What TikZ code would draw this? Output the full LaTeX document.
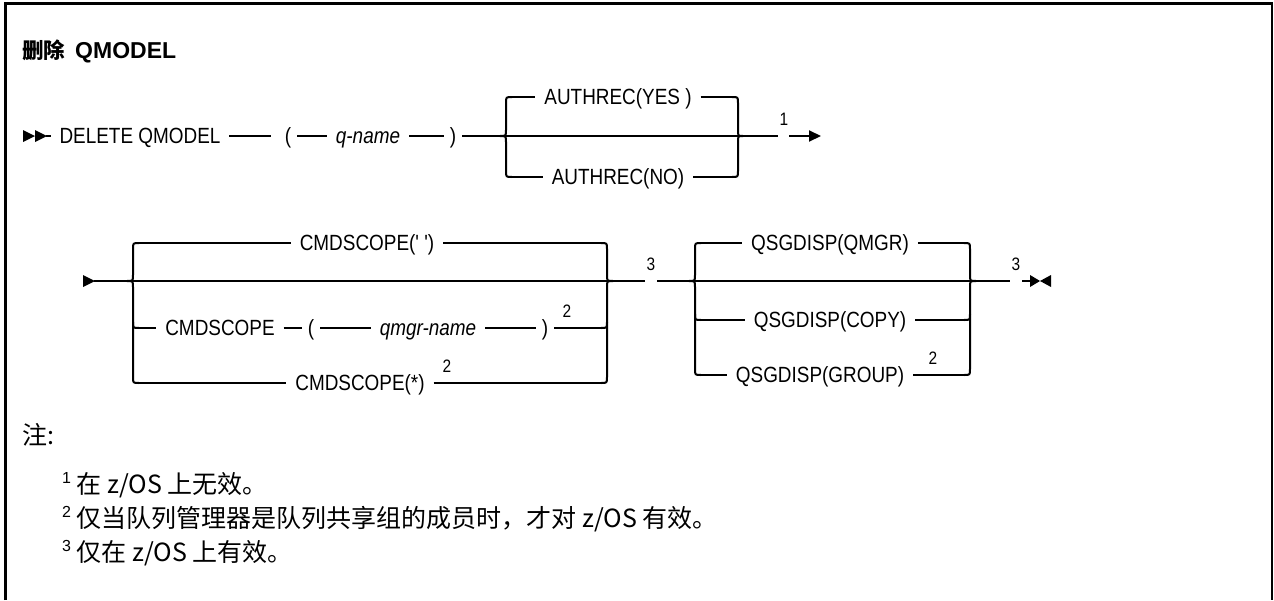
\documentclass[tikz,border=0pt]{standalone}
\usepackage{fontspec}
\usetikzlibrary{arrows.meta}
\newfontfamily\lbl{Liberation Sans}[FakeStretch=0.86]
\newfontfamily\lblb{Liberation Sans}
\newfontfamily\cjk{Noto Sans CJK SC}
\newcommand\lblfont{\lbl\fontsize{22}{24}\selectfont}
\newcommand\supfont{\lbl\fontsize{18}{19}\selectfont}
\newcommand\notefont{\cjk\fontsize{25}{27}\selectfont}
\newcommand\nsup[1]{{\lblb\fontsize{16}{16}\selectfont\raisebox{10pt}{#1}}}
\tikzset{
  rail/.style={line width=2pt},
  frame/.style={line width=2.8pt},
  tok/.style={font=\lblfont, inner sep=0pt, outer xsep=9pt, outer ysep=0pt,
              text height=15.7pt, text depth=0pt, anchor=center},
  par/.style={tok, outer xsep=6pt},
  supn/.style={font=\supfont, inner sep=0pt, anchor=center},
  notetext/.style={font=\notefont, inner sep=0pt, anchor=west},
  endarrow/.style={-{Triangle[length=12pt,width=11pt]}}
}
\begin{document}
\begin{tikzpicture}[x=1pt,y=-1pt]
\useasboundingbox (0,0) rectangle (1274,600);
% frame (open at the bottom)
\draw[frame] (5.5,600) -- (5.5,3.5) -- (1272,3.5) -- (1272,600);

% title
\node[anchor=west, inner sep=0pt] (title) at (22,51)
  {{\cjk\bfseries\fontsize{21.5}{24}\selectfont 删除}\hspace{10pt}{\lblb\bfseries\fontsize{23}{25}\selectfont QMODEL}};

% ---------------- row 1 ----------------
\fill (23,130) -- (35,136) -- (23,142) -- cycle;
\fill (35,130) -- (47,136) -- (35,142) -- cycle;
\coordinate (s1) at (46,136);
\node[tok] (del) at (140,136) {DELETE QMODEL};
\node[par] (lp1) at (288,136) {(};
\node[tok] (qn)  at (368,136) {\itshape q-name};
\node[par] (rp1) at (453,136) {)};
\coordinate (bl1) at (500,136);
\coordinate (br1) at (743,136);
\coordinate (e1) at (778,136);
\node[supn] (n1) at (784,119) {1};
\coordinate (a1) at (789,136);
\coordinate (a1end) at (821,136);

\draw[rail] (s1) -- (del);
\draw[rail, shorten >=8pt] (del) -- (lp1);
\draw[rail] (lp1) -- (qn);
\draw[rail] (qn) -- (rp1);
\draw[rail] (rp1) -- (e1);
\draw[rail,endarrow] (a1) -- (a1end);

\node[tok] (yes) at (618,97) {AUTHREC(YES )};
\node[tok] (no)  at (618,177) {AUTHREC(NO)};
\coordinate (lb1t) at (512,97);
\coordinate (lb1b) at (512,177);
\coordinate (rb1t) at (732,97);
\coordinate (rb1b) at (732,177);
\draw[rail] (lb1t) .. controls (506,97) .. (506,103) -- (506,130)
  .. controls (506,136) .. (bl1) .. controls (506,136) .. (506,142)
  -- (506,171) .. controls (506,177) .. (lb1b);
\draw[rail] (rb1t) .. controls (738,97) .. (738,103) -- (738,130)
  .. controls (738,136) .. (br1) .. controls (738,136) .. (738,142)
  -- (738,171) .. controls (738,177) .. (rb1b);
\draw[rail] (lb1t) -- (yes);
\draw[rail] (yes) -- (rb1t);
\draw[rail] (lb1b) -- (no);
\draw[rail] (no) -- (rb1b);

% ---------------- row 2 ----------------
\fill (83,275) -- (95,281) -- (83,287) -- cycle;
\coordinate (s2) at (94,281);
\coordinate (bl2) at (127,281);
\coordinate (br2) at (613,281);
\coordinate (g3a) at (645,281);
\node[supn] (n3a) at (651,264) {3};
\coordinate (g3b) at (657,281);
\coordinate (bl3) at (689,281);
\coordinate (br3) at (976,281);
\coordinate (g3c) at (1010,281);
\node[supn] (n3b) at (1016,264) {3};
\coordinate (g3d) at (1022,281);
\coordinate (endm) at (1031,281);

\draw[rail] (s2) -- (g3a);
\draw[rail] (g3b) -- (g3c);
\draw[rail] (g3d) -- (endm);
\fill (1030,275) -- (1040,281) -- (1030,287) -- cycle;
\fill (1051,275) -- (1040,281) -- (1051,287) -- cycle;

% CMDSCOPE choice
\coordinate (lb2t) at (139,243);
\coordinate (lb2m) at (139,328);
\coordinate (lb2b) at (139,383);
\coordinate (rb2t) at (601,243);
\coordinate (rb2m) at (601,328);
\coordinate (rb2b) at (601,383);
\draw[rail] (lb2t) .. controls (133,243) .. (133,249) -- (133,275)
  .. controls (133,281) .. (bl2) .. controls (133,281) .. (133,287)
  -- (133,377) .. controls (133,383) .. (lb2b);
\draw[rail] (133,322) .. controls (133,328) .. (lb2m);
\draw[rail] (rb2t) .. controls (607,243) .. (607,249) -- (607,275)
  .. controls (607,281) .. (br2) .. controls (607,281) .. (607,287)
  -- (607,377) .. controls (607,383) .. (rb2b);
\draw[rail] (rb2m) .. controls (607,328) .. (607,322);

\node[tok] (cs1) at (367,243) {CMDSCOPE(' ')};
\draw[rail] (lb2t) -- (cs1);
\draw[rail] (cs1) -- (rb2t);

\node[tok] (cs2) at (220,328) {CMDSCOPE};
\node[par] (lp2) at (311,328) {(};
\node[tok] (qm)  at (428,328) {\itshape qmgr-name};
\node[par] (rp2) at (545,328) {)};
\node[supn] (n2a) at (567,311) {2};
\draw[rail] (lb2m) -- (cs2);
\draw[rail] (cs2) -- (lp2);
\draw[rail] (lp2) -- (qm);
\draw[rail] (qm) -- (rp2);
\draw[rail] (rp2) -- (rb2m);

\node[tok] (cs3) at (360,383) {CMDSCOPE(*)};
\node[supn] (n2b) at (447,366) {2};
\draw[rail] (lb2b) -- (cs3);
\draw[rail] (cs3) -- (rb2b);

% QSGDISP choice
\coordinate (lb3t) at (701,243);
\coordinate (lb3m) at (701,320);
\coordinate (lb3b) at (701,375);
\coordinate (rb3t) at (964,243);
\coordinate (rb3m) at (964,320);
\coordinate (rb3b) at (964,375);
\draw[rail] (lb3t) .. controls (695,243) .. (695,249) -- (695,275)
  .. controls (695,281) .. (bl3) .. controls (695,281) .. (695,287)
  -- (695,369) .. controls (695,375) .. (lb3b);
\draw[rail] (695,314) .. controls (695,320) .. (lb3m);
\draw[rail] (rb3t) .. controls (970,243) .. (970,249) -- (970,275)
  .. controls (970,281) .. (br3) .. controls (970,281) .. (970,287)
  -- (970,369) .. controls (970,375) .. (rb3b);
\draw[rail] (rb3m) .. controls (970,320) .. (970,314);

\node[tok] (qg1) at (830,243) {QSGDISP(QMGR)};
\node[tok] (qg2) at (830,320) {QSGDISP(COPY)};
\node[tok] (qg3) at (820,375) {QSGDISP(GROUP)};
\node[supn] (n2c) at (933,358) {2};
\draw[rail] (lb3t) -- (qg1);
\draw[rail] (qg1) -- (rb3t);
\draw[rail] (lb3m) -- (qg2);
\draw[rail] (qg2) -- (rb3m);
\draw[rail] (lb3b) -- (qg3);
\draw[rail] (qg3) -- (rb3b);

% ---------------- notes ----------------
\node[notetext] (nhead) at (22,435) {注:};
\node[notetext] (note1) at (62,485) {\nsup{1} 在 z/OS 上无效。};
\node[notetext] (note2) at (62,519) {\nsup{2} 仅当队列管理器是队列共享组的成员时，才对 z/OS 有效。};
\node[notetext] (note3) at (62,553) {\nsup{3} 仅在 z/OS 上有效。};
\end{tikzpicture}
\end{document}
